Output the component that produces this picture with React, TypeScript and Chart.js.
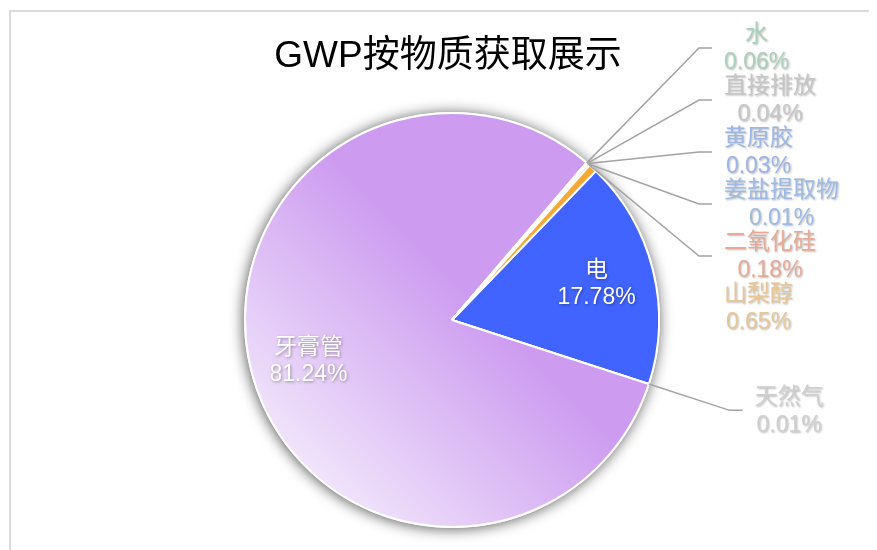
import React, { useEffect, useRef } from "react";
import { Chart, registerables } from "chart.js";

Chart.register(...registerables);

const chartTitle = "GWP按物质获取展示";
const categories = ["电", "天然气", "牙膏管", "水", "直接排放", "黄原胶", "姜盐提取物", "二氧化硅", "山梨醇"];
const shares = [17.78, 0.01, 81.24, 0.06, 0.04, 0.03, 0.01, 0.18, 0.65];
const sliceColors = ["#4163ff", "#bdbdbd", "#cd9cf0", "#91cc75", "#c4c4c4", "#6f8fe0", "#73a0e6", "#e8896b", "#f6a835"];
const labelColors = ["#ffffff", "#cfcfcf", "#ffffff", "#abd0bb", "#c6c6c6", "#9cb6e6", "#9dbbe4", "#e6ab96", "#e8c796"];
const noLeaderLine = ["山梨醇"];

const FONT = '"Liberation Sans", "Noto Sans CJK SC", Arial, sans-serif';

const pieDecor = {
  id: "pieDecor",
  beforeDatasetsDraw(chart: any) {
    const meta = chart.getDatasetMeta(0);
    const el = meta.data[0];
    if (!el) return;
    const { x, y, outerRadius } = el.getProps(["x", "y", "outerRadius"], true);
    const ctx = chart.ctx;
    ctx.save();
    ctx.shadowColor = "rgba(0,0,0,0.65)";
    ctx.shadowBlur = 14;
    ctx.shadowOffsetX = -1;
    ctx.shadowOffsetY = 1;
    ctx.fillStyle = "#ffffff";
    ctx.beginPath();
    ctx.arc(x, y, outerRadius + 1, 0, Math.PI * 2);
    ctx.fill();
    ctx.restore();
  },
  afterDatasetsDraw(chart: any) {
    const ctx = chart.ctx;
    const meta = chart.getDatasetMeta(0);
    const total = shares.reduce((a, b) => a + b, 0);
    const ca = chart.chartArea;

    // title
    ctx.save();
    ctx.font = `37px ${FONT}`;
    ctx.fillStyle = "#000";
    ctx.textAlign = "center";
    ctx.textBaseline = "middle";
    ctx.fillText(chartTitle, (ca.left + ca.right) / 2 - 4, 49);
    ctx.restore();

    const outside: any[] = [];
    meta.data.forEach((el: any, i: number) => {
      const p = el.getProps(["x", "y", "startAngle", "endAngle", "outerRadius"], true);
      const mid = (p.startAngle + p.endAngle) / 2;
      const dx = Math.cos(mid);
      const dy = Math.sin(mid);
      const pct = (shares[i] / total) * 100;
      const name = categories[i];
      const pctText = shares[i].toFixed(2) + "%";
      if (pct >= 5) {
        const r = p.outerRadius * 0.72;
        const lx = p.x + dx * r;
        const ly = p.y + dy * r;
        ctx.save();
        ctx.font = `23px ${FONT}`;
        ctx.fillStyle = labelColors[i];
        ctx.textAlign = "center";
        ctx.textBaseline = "middle";
        ctx.shadowColor = "rgba(0,0,0,0.35)";
        ctx.shadowBlur = 3;
        ctx.shadowOffsetX = 1;
        ctx.shadowOffsetY = 1;
        ctx.fillText(name, lx, ly - 13);
        ctx.fillText(pctText, lx, ly + 14);
        ctx.restore();
      } else {
        const len1 = 85;
        const rimX = p.x + dx * p.outerRadius;
        const rimY = p.y + dy * p.outerRadius;
        outside.push({
          i,
          name,
          pctText,
          rimX,
          rimY,
          nx: rimX + dx * len1,
          ny: rimY + dy * len1,
          right: dx >= 0,
          cx: p.x,
          R: p.outerRadius,
        });
      }
    });

    const G = 52;
    const minY = 40;
    [true, false].forEach((side) => {
      const items = outside.filter((o) => o.right === side).sort((a, b) => a.ny - b.ny);
      if (!items.length) return;
      let groups = items.map((it) => ({ items: [it], center: it.ny }));
      let changed = true;
      while (changed) {
        changed = false;
        for (let k = 0; k < groups.length - 1; k++) {
          const a = groups[k];
          const b = groups[k + 1];
          const aBottom = a.center + ((a.items.length - 1) * G) / 2;
          const bTop = b.center - ((b.items.length - 1) * G) / 2;
          if (bTop - aBottom < G) {
            const all = a.items.concat(b.items);
            const c = all.reduce((s, it) => s + it.ny, 0) / all.length;
            groups.splice(k, 2, { items: all, center: c });
            changed = true;
            break;
          }
        }
      }
      const ys: number[] = [];
      groups.forEach((g) => {
        g.items.forEach((it, j) => {
          ys.push(g.center - ((g.items.length - 1) * G) / 2 + j * G);
        });
      });
      for (let k = 0; k < ys.length; k++) {
        if (k === 0) ys[k] = Math.max(ys[k], minY);
        else ys[k] = Math.max(ys[k], ys[k - 1] + G);
      }
      items.forEach((it, k) => {
        const ey = ys[k];
        const dir = side ? 1 : -1;
        const ex = side ? Math.max(it.nx, it.cx + it.R + 40) : Math.min(it.nx, it.cx - it.R - 40);
        const endX = ex + dir * 13;
        ctx.save();
        if (!noLeaderLine.includes(it.name)) {
          ctx.strokeStyle = "#a3a3a3";
          ctx.lineWidth = 1.5;
          ctx.beginPath();
          ctx.moveTo(it.rimX, it.rimY);
          ctx.lineTo(ex, ey);
          ctx.lineTo(endX, ey);
          ctx.stroke();
        }
        ctx.font = `23px ${FONT}`;
        const w = Math.max(ctx.measureText(it.name).width, ctx.measureText(it.pctText).width);
        const left = side ? endX + 12 : endX - 12 - w;
        const tx = left + w / 2;
        ctx.fillStyle = labelColors[it.i];
        ctx.textAlign = "center";
        ctx.textBaseline = "middle";
        ctx.shadowColor = "rgba(0,0,0,0.28)";
        ctx.shadowBlur = 2;
        ctx.shadowOffsetX = 1;
        ctx.shadowOffsetY = 1;
        ctx.fillText(it.name, tx, ey - 13);
        ctx.fillText(it.pctText, tx, ey + 15);
        ctx.restore();
      });
    });
  },
};

export default function App() {
  const ref = useRef<HTMLCanvasElement | null>(null);
  useEffect(() => {
    if (!ref.current) return;
    const chart = new Chart(ref.current, {
      type: "pie",
      data: {
        labels: categories,
        datasets: [
          {
            data: shares,
            backgroundColor: (c: any) => {
              const i = c.dataIndex;
              if (categories[i] !== "牙膏管") return sliceColors[i];
              const ch = c.chart;
              const ca = ch.chartArea;
              if (!ca) return sliceColors[i];
              const cx = (ca.left + ca.right) / 2;
              const cy = (ca.top + ca.bottom) / 2;
              const R = Math.min(ca.right - ca.left, ca.bottom - ca.top) / 2;
              const g = ch.ctx.createLinearGradient(cx - R * 0.75, cy + R * 0.75, cx + R * 0.1, cy - R * 0.1);
              g.addColorStop(0, "#f2e8fb");
              g.addColorStop(1, sliceColors[i]);
              return g;
            },
            borderColor: "#ffffff",
            borderWidth: 2,
          },
        ],
      },
      options: {
        animation: false,
        responsive: true,
        maintainAspectRatio: false,
        rotation: 44,
        layout: { padding: { top: 104, bottom: 22, left: 19, right: 0 } },
        plugins: {
          legend: { display: false },
          title: { display: false },
          tooltip: { enabled: false },
        },
      },
      plugins: [pieDecor],
    });
    return () => chart.destroy();
  }, []);

  return (
    <div style={{ position: "relative", width: 869, height: 542, overflow: "hidden" }}>
      <div
        style={{
          position: "absolute",
          left: 1,
          top: 2,
          width: 900,
          height: 600,
          borderLeft: "2px solid #dadada",
          borderTop: "2px solid #dadada",
        }}
      />
      <div style={{ position: "absolute", left: 0, top: 0, width: 869, height: 542 }}>
        <canvas ref={ref} />
      </div>
    </div>
  );
}
